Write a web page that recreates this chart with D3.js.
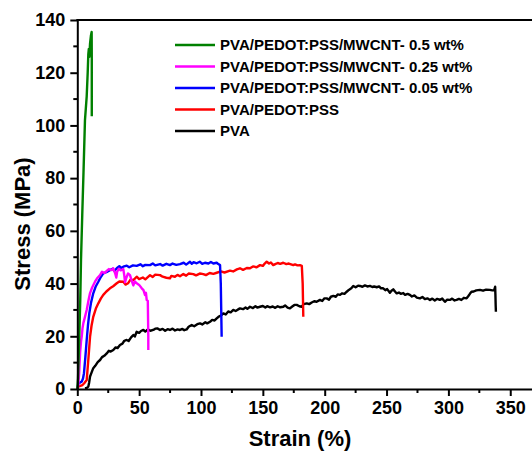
<!DOCTYPE html>
<html>
<head>
<meta charset="utf-8">
<script src="https://cdn.jsdelivr.net/npm/d3@7/dist/d3.min.js"></script>
<style>
  html, body { margin: 0; padding: 0; background: #fff; }
  svg { display: block; }
  text { font-family: "Liberation Sans", Arial, sans-serif; font-weight: bold; fill: #000; }
</style>
</head>
<body>
<svg id="chart" width="532" height="452"></svg>
<script>
// Stress–strain curves: [strain %, stress MPa]
const cnt05 = [[0,0],[0.6,4],[1.5,18],[2.4,34],[3,49],[4,66],[5,82],[6.2,102],[7.6,111],[8.4,120],[8.9,127],[9.3,129],[9.7,126],[10.3,131],[11,134],[11.6,135.5],[11.7,125],[11.7,103.5]];

const cnt025 = [[0,0],[0.8,1.5],[1.5,6],[2.3,14],[3,18],[3.6,20],[4.2,23],[4.9,25],[6,27],[7.6,30],[9,33.5],[10.3,36.4],[12,38.5],[14.3,40.7],[16,42],[18.4,43.2],[20,44.5],[22,44],[23.8,44.8],[25.5,45.5],[27.8,45.1],[29,45.8],[30.5,44],[31.5,42.3],[32.2,44.5],[33.5,45.6],[35,45],[37.2,45.5],[38,43],[38.6,40.5],[39.5,42],[41,43.8],[42.6,43.2],[44,41],[45.3,39.3],[46.5,40.8],[48,40.1],[50,39.5],[52.1,38.2],[53.5,37.5],[54.7,35.7],[55.5,36.5],[56.1,33.8],[57,33.4],[57.4,20],[57.4,14.8]];

const cnt005 = [[0,0],[0.8,2],[2,2.4],[3.6,2.8],[4.6,4],[5.4,6],[6.5,12],[7.6,18.6],[8.6,24],[9.7,28.7],[11,32.5],[12.9,36.3],[15,39],[17,40.7],[19,42.5],[21,43.9],[23.5,44.3],[26.4,45.1],[28.5,45.6],[30,44.8],[31.9,45.8],[34,46.6],[35.5,45.9],[37.2,46.4],[40,46.8],[42,46.2],[45,46.9],[48,46.7],[51,47.3],[53,46.6],[55,47.1],[58.8,47],[61,47.6],[63,46.9],[66.9,47.4],[69,46.8],[72,47.5],[74.9,47],[77,47.6],[80,47.1],[83,47.4],[86,47.9],[88,47.2],[91.1,48.3],[92.5,47.5],[94,48.1],[96.5,47.7],[99,48.3],[101,47.5],[103.2,47.9],[106,47.6],[108,48.2],[110,47.6],[112.7,47.9],[114,47.4],[115.4,47],[116,40],[116.7,19.8]];

const pedot = [[0,0],[0.8,0.9],[2.5,1.2],[4.2,1.5],[5.6,2.2],[7.6,3.4],[8.9,11],[10.3,19.8],[11.5,24],[12.9,27.4],[15,30.5],[17,32.5],[19,34.3],[21,35.7],[23.5,37],[26.4,38.2],[29,39],[31.9,40.1],[34,40.8],[37.2,40.7],[39,39.6],[41,40.1],[43,41.5],[45.3,41.3],[48,42.6],[50,41.7],[53,42.3],[55,41.6],[58.8,43.2],[61,42.5],[63,43.4],[66.9,43.2],[69,42.6],[72,42.2],[74.9,42],[76,42.9],[78.9,42.6],[81,43.3],[83,42.8],[85.7,43.6],[88,43],[90,43.8],[93.8,43.6],[96,43.1],[99,43.8],[101.9,43.6],[104,43.2],[107,44],[110,43.7],[112.7,44.1],[116,44.6],[119,44.2],[123.4,44.9],[126,44.6],[129,45.4],[131.5,45.8],[134,45.2],[137,45.9],[139.6,45.8],[142,46.5],[145,46.2],[147.7,47],[150,46.7],[151.5,47.6],[153.1,48.3],[155,47.6],[156.5,48],[158.4,47],[160,47.4],[162,47.8],[164,47.5],[166.5,47.9],[169,47.4],[171,47.6],[174.6,47],[176,47.3],[178,46.9],[180,47],[181.5,46.7],[182.2,40],[182.7,27.4]];

const pva = [[6.2,0.3],[7.5,0.4],[8.9,0.9],[9.6,2.5],[10.3,4.7],[11.5,6.2],[12.9,7.9],[14.5,8.8],[16.5,10.2],[18.4,11],[20,12.1],[21.8,12.6],[23.8,13.5],[25.5,14.5],[27,14.2],[29.1,14.8],[31,15.8],[32.5,15.5],[34.5,16.7],[36.5,17.2],[38,18.3],[39.9,18.6],[41.5,18.2],[43.5,19.6],[45.3,20.5],[46.5,19.9],[48,21.7],[50,21.3],[51.5,22],[53.4,22.4],[55,21.8],[57,22.6],[59,22.1],[61.4,22.4],[63,22.9],[64.7,23],[66.9,22.4],[69,22.8],[71,22.1],[73,22.7],[74.9,22.4],[77,22.9],[79,22.2],[81,22.6],[83,22.4],[85,22.8],[86.5,22.3],[88.4,22.6],[90,23.6],[92.5,24.3],[94.5,23.8],[97,24.6],[99.2,24.9],[101,24.5],[103.5,25.3],[105,24.9],[107.3,25.5],[109,26.2],[111,26],[112.7,26.8],[114.5,27.5],[116.5,28],[118,28.7],[120,28.3],[122,29.4],[124,29.1],[126.1,30],[128,29.6],[130,30.2],[131.5,30.6],[134,30.3],[136,30.9],[137.5,30.4],[139.6,31.2],[142,30.7],[144,31.4],[145.5,30.9],[147.7,31.2],[150,31.5],[152,30.9],[153.5,31.4],[155.8,31],[158,31.3],[160,30.8],[162,31.4],[164,31],[166.5,31.2],[168,31.7],[170,30.9],[171.9,30.6],[173.5,31.2],[175.5,31.9],[177.4,31.9],[179.5,31.4],[181.4,31.2],[183,32.2],[185.5,32.5],[187.5,32.2],[189.5,32.8],[191.5,33.3],[193.5,33.1],[196.2,33.8],[198,33.4],[199.8,34.4],[201.6,34.4],[203.5,33.9],[205,35],[207,35.3],[209,35],[210.5,35.9],[212.4,35.7],[214,36.3],[216,36.1],[217.8,36.9],[219.5,37.6],[221.5,38.2],[223.1,39.1],[225,38.6],[227,39.2],[228.5,39.1],[230.5,38.8],[232.5,39.3],[234.5,38.9],[236.6,39.1],[238.5,38.7],[240,38.9],[242,38.6],[244,38.9],[245.5,38.2],[247.3,38.2],[249,37.5],[250.5,37.9],[252.7,36.5],[254,37.3],[255.4,37.8],[257,36.9],[258.2,36.3],[260,36.6],[261.5,36.1],[263.5,36.4],[265,35.7],[267,36.1],[268.9,35.7],[270.5,35.1],[272.5,35.5],[274.5,34.7],[277,34.4],[279,34.9],[281,34.1],[283,34.4],[285.1,33.8],[287,34.3],[289,33.6],[291,34.2],[293.1,33.8],[295,34.3],[297.2,33.1],[299,33.9],[301.2,33.8],[303,34.3],[305,33.6],[306.6,33.8],[308.5,34.2],[310.5,33.8],[312.5,34.6],[314.7,34.4],[316,35.2],[317.5,36.2],[318.7,36.9],[320.5,37],[322.5,37.4],[325.5,37.6],[328,37.3],[330.5,37.7],[333.5,37.6],[335.5,37.4],[337,37.5],[337.8,38.8],[338,36],[338.2,32],[338.4,29.3]];

const seriesNames = ["PVA/PEDOT:PSS/MWCNT- 0.5 wt%", "PVA/PEDOT:PSS/MWCNT- 0.25 wt%", "PVA/PEDOT:PSS/MWCNT- 0.05 wt%", "PVA/PEDOT:PSS", "PVA"];
const seriesData = [cnt05, cnt025, cnt005, pedot, pva];
const seriesColors = ["#008000", "#ff00ff", "#0000ff", "#ff0000", "#000000"];

const xMajorTicks = [0, 50, 100, 150, 200, 250, 300, 350];
const xMinorTicks = [25, 75, 125, 175, 225, 275, 325];
const yMajorTicks = [0, 20, 40, 60, 80, 100, 120, 140];
const yMinorTicks = [10, 30, 50, 70, 90, 110, 130];

const svg = d3.select("#chart");
const plotLeft = 77.3, plotBottom = 389, plotTop = 20;

const x = d3.scaleLinear().domain([0, 368]).range([plotLeft, plotLeft + 368 * 1.237]);
const y = d3.scaleLinear().domain([0, 140]).range([plotBottom, plotTop]);

// curves (drawn back to front)
const line = d3.line().x(d => x(d[0])).y(d => y(d[1]));
const drawOrder = [4, 3, 2, 1, 0];
svg.append("g").selectAll("path")
  .data(drawOrder)
  .join("path")
  .attr("d", i => line(seriesData[i]))
  .attr("fill", "none")
  .attr("stroke", i => seriesColors[i])
  .attr("stroke-width", 2.4)
  .attr("stroke-linejoin", "round");

// axes
const xAxis = d3.axisBottom(x).tickValues(xMajorTicks).tickSize(7).tickSizeOuter(0).tickPadding(4);
const gx = svg.append("g").attr("transform", `translate(0,${plotBottom})`).call(xAxis);
gx.selectAll("text").style("font-size", "18px").attr("dy", "0.75em");
gx.selectAll(".tick line").attr("stroke-width", 2);
gx.select(".domain").attr("stroke-width", 2);
gx.selectAll(".minor").data(xMinorTicks).join("line")
  .attr("class", "minor")
  .attr("x1", d => x(d)).attr("x2", d => x(d))
  .attr("y1", 0).attr("y2", 4)
  .attr("stroke", "#000").attr("stroke-width", 2);

const yAxis = d3.axisLeft(y).tickValues(yMajorTicks).tickSize(7).tickSizeOuter(0).tickPadding(5);
const gy = svg.append("g").attr("transform", `translate(${plotLeft},0)`).call(yAxis);
gy.selectAll("text").style("font-size", "18px");
gy.selectAll(".tick line").attr("stroke-width", 2);
gy.select(".domain").attr("stroke-width", 2);
gy.selectAll(".minor").data(yMinorTicks).join("line")
  .attr("class", "minor")
  .attr("x1", 0).attr("x2", -4)
  .attr("y1", d => y(d)).attr("y2", d => y(d))
  .attr("stroke", "#000").attr("stroke-width", 2);

// top frame
svg.append("line")
  .attr("x1", plotLeft - 1).attr("x2", x(368))
  .attr("y1", plotTop).attr("y2", plotTop)
  .attr("stroke", "#000").attr("stroke-width", 2);

// axis titles
svg.append("text")
  .attr("x", 300).attr("y", 446)
  .attr("text-anchor", "middle")
  .style("font-size", "22px")
  .text("Strain (%)");
svg.append("text")
  .attr("transform", `translate(30,224) rotate(-90)`)
  .attr("text-anchor", "middle")
  .style("font-size", "22px")
  .text("Stress (MPa)");

// legend
const legendRows = [45, 66.5, 88, 109.5, 131];
const lg = svg.append("g");
seriesNames.forEach((name, i) => {
  lg.append("line")
    .attr("x1", 175).attr("x2", 215)
    .attr("y1", legendRows[i]).attr("y2", legendRows[i])
    .attr("stroke", seriesColors[i]).attr("stroke-width", 2.4);
  lg.append("text")
    .attr("x", 220).attr("y", legendRows[i] + 5)
    .style("font-size", "15px")
    .text(name);
});
</script>
</body>
</html>
